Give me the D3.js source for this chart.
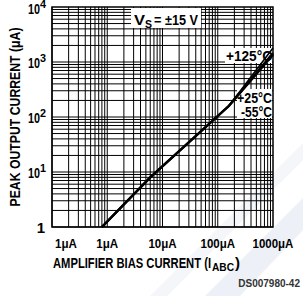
<!DOCTYPE html>
<html>
<head>
<meta charset="utf-8">
<script src="https://cdn.jsdelivr.net/npm/d3@7"></script>
<style>
  html, body { margin: 0; padding: 0; background: #fff; }
  svg { display: block; }
  text { font-family: "Liberation Sans", Arial, sans-serif; font-weight: bold; }
</style>
</head>
<body>
<svg id="chart"></svg>
<script>
// axis ticks (decades)
const xTicks = [0.1, 1, 10, 100, 1000];
const xTickLabels = ["1\u03bcA", "1\u03bcA", "10\u03bcA", "100\u03bcA", "1000\u03bcA"];
const yTicks = [1, 10, 100, 1000, 10000];
const yTickExp = [null, "1", "2", "3", "4"];

// curves: bias current (uA) -> peak output current (uA)
const biasCurrent = [0.8, 6, 160, 1000];
const outM55 = [1, 8, 160, 1350];
const out25 = [1, 8, 160, 1450];
const out125 = [1, 8, 160, 1800];

const series = [
  { name: "-55", x: biasCurrent, y: outM55, w: 2.4 },
  { name: "25", x: biasCurrent, y: out25, w: 2.4 },
  { name: "125", x: biasCurrent, y: out125, w: 1.6 }
];

const W = 303, H = 296;
const m = { left: 52, right: 30, top: 7, bottom: 69 };

const svg = d3.select("#chart").attr("width", W).attr("height", H);

// faint watermark in the corner
svg.append("path")
  .attr("d", "M205,296 L303,198 L303,230 L240,296 Z")
  .attr("fill", "#edf0f6");
svg.append("path")
  .attr("d", "M150,296 L303,143 L303,160 L167,296 Z")
  .attr("fill", "#f4f6fa");

const x = d3.scaleLog().domain([0.1, 1000]).range([m.left, W - m.right]);
const y = d3.scaleLog().domain([1, 10000]).range([H - m.bottom, m.top]);

const g = svg.append("g");

// grid: every 1..9 in each decade
const xGrid = [];
for (let d = 0.1; d < 1000; d *= 10) for (let k = 1; k <= 9; k++) xGrid.push(d * k);
const yGrid = [];
for (let d = 1; d < 10000; d *= 10) for (let k = 1; k <= 9; k++) yGrid.push(d * k);

g.selectAll("line.vx").data(xGrid).join("line")
  .attr("x1", d => x(d)).attr("x2", d => x(d))
  .attr("y1", m.top).attr("y2", H - m.bottom)
  .attr("stroke", "#000").attr("stroke-width", 1);

g.selectAll("line.hy").data(yGrid).join("line")
  .attr("y1", d => y(d)).attr("y2", d => y(d))
  .attr("x1", m.left).attr("x2", W - m.right)
  .attr("stroke", "#000").attr("stroke-width", 1);

g.append("rect")
  .attr("x", m.left).attr("y", m.top)
  .attr("width", W - m.left - m.right).attr("height", H - m.top - m.bottom)
  .attr("fill", "none").attr("stroke", "#000").attr("stroke-width", 1.5);

// white boxes behind the labels
function box(bx, by, bw, bh) {
  svg.append("rect").attr("x", bx).attr("y", by).attr("width", bw).attr("height", bh).attr("fill", "#fff");
}
box(131, 8, 70, 20);
box(225, 48, 47, 15);
box(237, 89, 35, 29);

// curves
const line = d3.line().x(d => x(d[0])).y(d => y(d[1]));
svg.selectAll("path.curve").data(series).join("path")
  .attr("class", "curve")
  .attr("fill", "none").attr("stroke", "#000")
  .attr("stroke-width", d => d.w)
  .attr("d", d => line(d.x.map((v, i) => [v, d.y[i]])));

// fitted text helper
function txt(tx, ty, s, size, len, anchor) {
  const t = svg.append("text").attr("x", tx).attr("y", ty).attr("font-size", size).text(s);
  if (len) t.attr("textLength", len).attr("lengthAdjust", "spacingAndGlyphs");
  if (anchor) t.attr("text-anchor", anchor);
  return t;
}

// V_S label
txt(134, 25, "V", 15, 11);
txt(145, 28, "S", 11, 7);
txt(154, 25, "= \u00b115 V", 15, 44);

txt(226, 61, "+125\u00b0C", 14, 46);
txt(237, 103, "+25\u00b0C", 14, 35);
txt(241, 117, "-55\u00b0C", 14, 31);

// y tick labels
yTicks.forEach((v, i) => {
  const by = Math.max(y(v) + 6, 14);
  if (yTickExp[i] === null) {
    txt(45, by, "1", 15, null, "end");
  } else {
    txt(28, by, "10", 15, 12);
    txt(40, by - 6, yTickExp[i], 10, 6);
  }
});

// x tick labels
xTicks.forEach((v, i) => {
  const lbl = xTickLabels[i];
  txt(i === 0 ? x(v) + 14 : x(v), 248, lbl, 13, 6.3 * lbl.length + 3, "middle");
});

// axis titles
txt(53, 268, "AMPLIFIER BIAS CURRENT (I", 14, 158);
txt(212, 271, "ABC", 11, 22);
txt(235, 268, ")", 14, 5);

svg.append("text")
  .attr("transform", "translate(20,117) rotate(-90)")
  .attr("text-anchor", "middle").attr("font-size", 14)
  .attr("textLength", 179).attr("lengthAdjust", "spacingAndGlyphs")
  .text("PEAK OUTPUT CURRENT (\u03bcA)");

svg.append("text").attr("x", 300).attr("y", 287).attr("text-anchor", "end")
  .attr("font-size", 10).attr("font-weight", "normal")
  .attr("fill", "#333").text("DS007980-42");
</script>
</body>
</html>
